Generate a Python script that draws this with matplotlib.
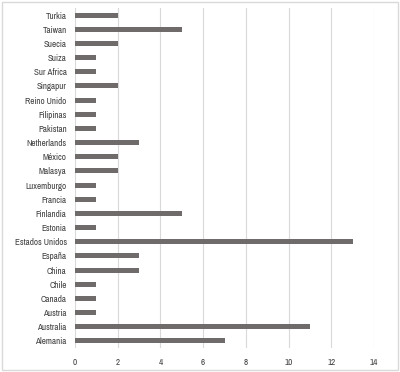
import matplotlib
matplotlib.use('Agg')
import matplotlib.pyplot as plt
from matplotlib.patches import Rectangle

# Countries listed bottom-to-top as drawn on the y axis
countries = ['Alemania', 'Australia', 'Austria', 'Canada', 'Chile', 'China',
             'España', 'Estados Unidos', 'Estonia', 'Finlandia', 'Francia',
             'Luxemburgo', 'Malasya', 'México', 'Netherlands', 'Pakistan',
             'Filipinas', 'Reino Unido', 'Singapur', 'Sur Africa', 'Suiza',
             'Suecia', 'Taiwan', 'Turkia']
counts = [7, 11, 1, 1, 1, 3, 3, 13, 1, 5, 1, 1, 2, 2, 3, 1, 1, 1, 2, 1, 1, 2, 5, 2]
x_ticks = [0, 2, 4, 6, 8, 10, 12, 14]

plt.rcParams['font.family'] = ['Archivo Narrow', 'DejaVu Sans']

fig = plt.figure(figsize=(4.0, 3.72), dpi=100)
fig.patch.set_facecolor('white')

# outer chart border like the Excel chart frame
fig.patches.append(Rectangle((0.005, 0.005), 0.99, 0.99, transform=fig.transFigure,
                             fill=False, edgecolor='#d9d9d9', linewidth=1.0))

ax = fig.add_axes([0.1875, 0.0645, 0.7475, 0.914])
ypos = list(range(len(countries)))
ax.barh(ypos, counts, height=0.36, color='#6f6b6b', zorder=3)

ax.set_xlim(0, 14)
ax.set_ylim(-0.5, len(countries) - 0.5)
ax.set_xticks(x_ticks)
ax.set_xticklabels([str(t) for t in x_ticks])
ax.set_yticks(ypos)
ax.set_yticklabels(countries)

ax.grid(axis='x', color='#d9d9d9', linewidth=0.8, zorder=0)
for s in ax.spines.values():
    s.set_visible(False)
ax.tick_params(axis='both', length=0, labelsize=6.5, colors='#404040')
ax.tick_params(axis='y', pad=6)
ax.tick_params(axis='x', pad=7)

fig.savefig('out.png', dpi=100, facecolor='white')
